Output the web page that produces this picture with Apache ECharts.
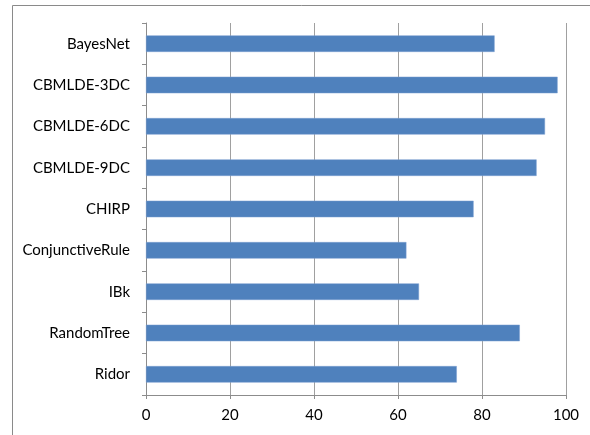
<!DOCTYPE html>
<html>
<head>
<meta charset="utf-8">
<script src="https://cdn.jsdelivr.net/npm/echarts@6/dist/echarts.min.js"></script>
<style>
  html, body { margin: 0; padding: 0; background: #fff; }
  #chart { width: 590px; height: 435px; }
</style>
</head>
<body>
<div id="chart"></div>
<script>
// Classifier names, listed top to bottom
const classifiers = ['BayesNet', 'CBMLDE-3DC', 'CBMLDE-6DC', 'CBMLDE-9DC', 'CHIRP',
  'ConjunctiveRule', 'IBk', 'RandomTree', 'Ridor'];
// Score for each classifier
const scores = [83, 98, 95, 93, 78, 62, 65, 89, 74];
// Value axis range and step
const axisMin = 0;
const axisMax = 100;
const axisStep = 20;

const chart = echarts.init(document.getElementById('chart'));
const fontFamily = 'Lato, "Open Sans", sans-serif';
const axisGrey = '#8c8c8c';

chart.setOption({
  animation: false,
  graphic: [{
    type: 'rect',
    shape: { x: 12.5, y: 5.5, width: 700, height: 500 },
    style: { fill: 'none', stroke: '#8a8a8a', lineWidth: 1 },
    silent: true
  }],
  grid: { left: 146, right: 24, top: 23, bottom: 40, containLabel: false },
  xAxis: {
    type: 'value',
    min: axisMin,
    max: axisMax,
    interval: axisStep,
    axisLine: { show: true, lineStyle: { color: axisGrey, width: 1 } },
    axisTick: { show: true, length: 4, lineStyle: { color: axisGrey } },
    splitLine: { show: true, lineStyle: { color: '#a0a0a0', width: 1 } },
    axisLabel: { color: '#000', fontSize: 15, fontFamily: fontFamily, margin: 13 }
  },
  yAxis: {
    type: 'category',
    data: classifiers,
    inverse: true,
    axisLine: { show: true, lineStyle: { color: axisGrey, width: 1 } },
    axisTick: { show: true, length: 4, alignWithLabel: false, lineStyle: { color: axisGrey } },
    axisLabel: { color: '#000', fontSize: 15, fontFamily: fontFamily, margin: 16 },
    splitLine: { show: false }
  },
  series: [{
    type: 'bar',
    data: scores,
    barWidth: '40%',
    itemStyle: { color: '#4f81bd', borderColor: '#7a9fd0', borderWidth: 0.5 }
  }]
});
</script>
</body>
</html>
